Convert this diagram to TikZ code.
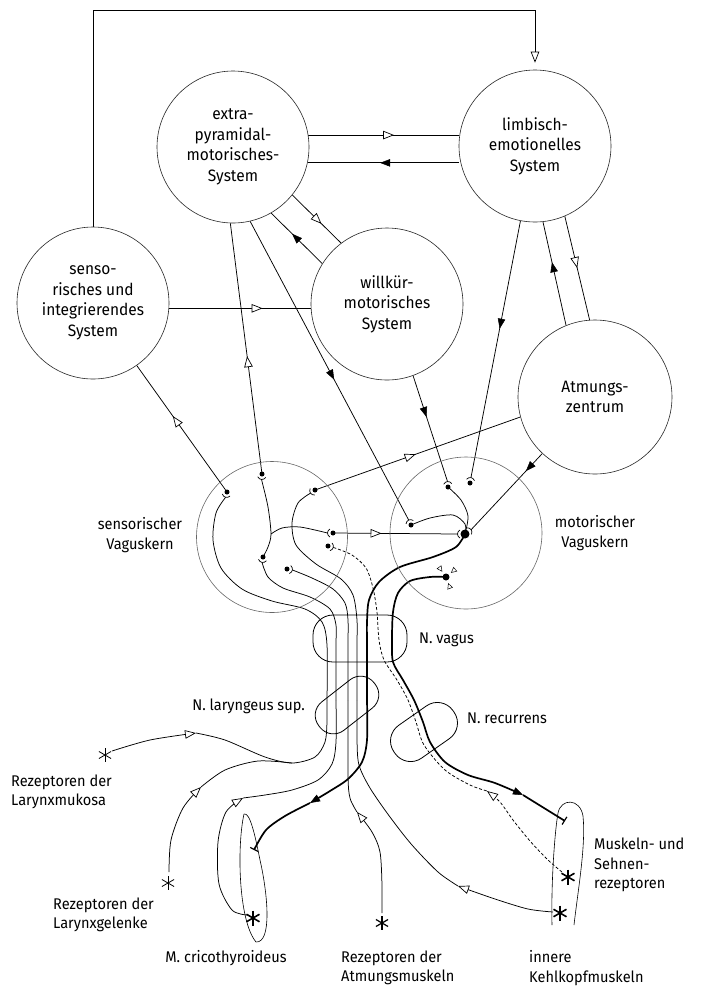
\documentclass[tikz,border=0pt]{standalone}
\usepackage{fontspec}
\setmainfont{Fira Sans}[FakeStretch=0.94]
\usetikzlibrary{arrows.meta,decorations.markings,calc}
\pgfdeclarelayer{bg}
\pgfsetlayers{bg,main}
\tikzset{
  oa/.tip={Triangle[length=11pt,width=8.5pt,fill=white,line width=0.7pt]},
  fa/.tip={Triangle[length=10pt,width=7.5pt,line width=0.5pt]},
  mo/.style={postaction={decorate},decoration={markings,mark=at position #1 with {\arrow{oa}}}},
  mor/.style={postaction={decorate},decoration={markings,mark=at position #1 with {\arrowreversed{oa}}}},
  mf/.style={postaction={decorate},decoration={markings,mark=at position #1 with {\arrow{fa}}}},
  mfr/.style={postaction={decorate},decoration={markings,mark=at position #1 with {\arrowreversed{fa}}}},
  fib/.style={line width=0.75pt},
  thk/.style={line width=1.7pt},
  dsh/.style={line width=0.75pt,dash pattern=on 3pt off 2pt},
  bigc/.style={circle,draw=black!85,line width=0.6pt,fill=white,minimum size=152pt,inner sep=0pt,align=center,font=\fontsize{16.5}{20.5}\selectfont},
  kern/.style={circle,draw=black!60,line width=0.6pt,minimum size=151pt,inner sep=0pt},
  lbl/.style={font=\fontsize{15.5}{19.5}\selectfont,inner sep=0pt},
  outl/.style={draw,line width=0.8pt,inner sep=0pt},
}
\newcommand\cupd[3]{%
  \begin{scope}[shift={(#1)},rotate=#2]
    \draw[line width=0.7pt] (#3-2.4pt,-4pt) .. controls (#3+0.8pt,-2pt) and (#3+0.8pt,2pt) .. (#3-2.4pt,4pt);
  \end{scope}}
\newcommand\astk[4]{%
  \foreach \ang in {90,30,150} {\draw[line width=#4] ($(#1)+(\ang:#3)$) -- ($(#1)+(\ang+180:#3)$);}}
\begin{document}
\begin{tikzpicture}[x=1pt,y=-1pt]
\useasboundingbox (0,0) rectangle (703,989);
% ---------- big circles
\node[bigc] (extra) at (233,147) {extra-\\pyramidal-\\motorisches-\\System};
\node[bigc] (limb) at (535,146) {limbisch-\\emotionelles\\System};
\node[bigc] (sens) at (93,303) {senso-\\risches und\\integrierendes\\System};
\node[bigc] (will) at (387,304) {willkür-\\motorisches\\System};
\node[bigc,minimum size=154pt] (atm) at (595,397) {Atmungs-\\zentrum};
\node[kern] (sk) at (272,537) {};
\node[kern,minimum size=152pt] (mk) at (466,533) {};
% ---------- nerve outlines
\node[outl,rounded corners=20pt,minimum width=94pt,minimum height=47pt] (vag) at (360,638.5) {};
\node[outl,rounded corners=17pt,minimum width=70pt,minimum height=36pt,rotate=38] (lar) at (347,705) {};
\node[outl,rounded corners=19pt,minimum width=72pt,minimum height=40pt,rotate=35] (rec) at (424,732) {};
\draw[line width=0.6pt] (244,814) .. controls (237,845) and (238,920) .. (256,942) .. controls (272,943) and (268,895) .. (260,860) .. controls (255,835) and (250,812) .. (244,814);
\draw[line width=0.6pt] (552,925) .. controls (551,880) and (555,830) .. (558,813) .. controls (561,798) and (580,798) .. (583,816) .. controls (586,845) and (578,890) .. (574,925);
% ---------- synapse coordinates
\coordinate (A) at (227,492); \coordinate (Ac) at ($(A)+(255:5.5pt)$);
\coordinate (B) at (262,474); \coordinate (Bc) at ($(B)+(265:5.5pt)$);
\coordinate (C) at (263,557); \coordinate (Cc) at ($(C)+(260:5.5pt)$);
\coordinate (D) at (333,533); \coordinate (Dc) at ($(D)+(180:5.5pt)$);
\coordinate (E) at (315,490); \coordinate (Ec) at ($(E)+(215:5.5pt)$);
\coordinate (F) at (287,569); \coordinate (Fc) at ($(F)+(-10:5.5pt)$);
\coordinate (G) at (328,546); \coordinate (Gc) at ($(G)+(-15:5.5pt)$);
\coordinate (H) at (411,525); \coordinate (Hc) at ($(H)+(115:5.5pt)$);
\coordinate (I) at (448,487); \coordinate (Ic) at ($(I)+(95:5.5pt)$);
\coordinate (J) at (470,483); \coordinate (Jc) at ($(J)+(80:5.5pt)$);
\coordinate (K) at (465,534); \coordinate (Kl) at ($(K)+(180:7.5pt)$); \coordinate (Kr) at ($(K)+(35:7.5pt)$);
\coordinate (L) at (446,577);
\coordinate (jn) at (271,534);
\coordinate (b1) at (327,700); \coordinate (b2) at (336,700); \coordinate (b3) at (348,700);
\coordinate (b4) at (357,700); \coordinate (b5) at (367,700);
\coordinate (tl) at (93,10); \coordinate (tr) at (535,10);
% receptor points and arrow tips
\coordinate (smu) at (105,755); \coordinate (mu) at (112,751); \coordinate (ma) at (196,733);
\coordinate (sge) at (168,883); \coordinate (ge) at (169,872); \coordinate (ga) at (201,787);
\coordinate (scr) at (253,918); \coordinate (cr) at (247,915); \coordinate (ca) at (243,798);
\coordinate (sat) at (382,923); \coordinate (at) at (382,913); \coordinate (aa) at (357,812);
\coordinate (sk1) at (568,877); \coordinate (k1) at (562,872); \coordinate (dt) at (487,791);
\coordinate (sk2) at (560,913); \coordinate (k2) at (553,912); \coordinate (ka) at (458,886);
\coordinate (m1a) at (310,803); \coordinate (m1e) at (254,850);
\coordinate (m2a) at (523,795); \coordinate (m2e) at (565,821);
\begin{pgfonlayer}{bg}
% ---------- top connections
\draw[fib,-{oa},shorten >=7pt] (sens.north) -- (tl) -- (tr) -- (limb.north);
\draw[fib,mo=0.57] (extra.9) -- (extra.9 -| limb.west);
\draw[fib,mfr=0.48] (extra.-12) -- (extra.-12 -| limb.west);
\draw[fib,mo=0.6] (extra.-39) -- (will.127.5);
\draw[fib,mf=0.59] (will.148) -- (extra.-60);
\draw[fib,mo=0.66] (sens.-4) -- (sens.-4 -| will.west);
\draw[fib,mf=0.61] (atm.112) -- (limb.-84);
\draw[fib,mo=0.5] (limb.-67) -- (atm.94);
% ---------- to nuclei
\draw[fib,mor=0.4] (sens.-55) -- (A);
\draw[fib,mor=0.53] (extra.-92) -- (B);
\draw[fib,mf=0.53] (extra.-77) -- (Hc);
\draw[fib,mf=0.39] (will.-70.6) -- (Ic);
\draw[fib,mf=0.42] (limb.-101) -- (Jc);
\draw[fib,mo=0.49] (E) -- (atm.195);
\draw[fib,mf=0.23] (atm.227) -- (Kr);
\draw[fib,mo=0.39] (D) -- (Kl);
% ---------- inside motor nucleus
\draw[fib] plot[smooth] coordinates {(H) (430,518) (453,515) (465,524) (K)};
\draw[fib] plot[smooth] coordinates {(I) (461,500) (468,516) (K)};
% ---------- inside sensory nucleus
\draw[fib] plot[smooth] coordinates {(C) (268,547) (jn) (268,507) (Bc)};
\draw[fib] plot[smooth] coordinates {(jn) (282,528) (300,527) (Dc)};
\draw[fib] plot[smooth] coordinates {(Ac) (216,513) (213,540) (221,568) (242,589) (272,601) (305,609) (322,622) (327,645) (b1)};
\draw[fib] plot[smooth] coordinates {(Cc) (268,577) (283,588) (310,597) (330,609) (336,625) (336,645) (b2)};
\draw[fib] plot[smooth] coordinates {(Ec) (298,503) (292,523) (296,545) (316,564) (341,579) (353,595) (357,620) (357,645) (b4)};
\draw[fib] plot[smooth] coordinates {(Fc) (312,578) (333,589) (345,603) (348,620) (348,645) (b3)};
\draw[dsh] plot[smooth] coordinates {(Gc) (352,555) (366,568) (373,588) (377,612) (379,640) (384,660) (397,680) (408,700) (416,722) (424,745) (445,770) (470,785) (dt)};
\draw[dsh,-{oa}] plot[smooth] coordinates {(k1) (548,860) (530,841) (513,820) (500,802) (dt)};
% ---------- motor fibres
\draw[thk] plot[smooth] coordinates {(K) (456,547) (433,557) (400,567) (379,582) (369,600) (367,622) (367,645) (b5)};
\draw[thk,-{fa}] plot[smooth] coordinates {(b5) (367,740) (362,762) (348,779) (330,791) (m1a)};
\draw[thk,-{Bar[width=9pt,line width=1.2pt]}] plot[smooth] coordinates {(m1a) (285,816) (266,830) (m1e)};
\draw[thk,-{fa}] plot[smooth] coordinates {(L) (430,577) (410,581) (398,593) (393,612) (392,640) (393,662) (403,680) (414,700) (423,722) (430,742) (445,762) (468,775) (495,783) (m2a)};
\draw[thk,-{Bar[width=9pt,line width=1.2pt]}] (m2a) -- (m2e);
% ---------- afferent fibres below
\draw[fib,-{oa}] plot[smooth] coordinates {(mu) (150,740) (ma)};
\draw[fib] plot[smooth] coordinates {(ma) (225,740) (265,757) (292,763) (315,757) (325,742) (327,722) (b1)};
\draw[fib,-{oa}] plot[smooth] coordinates {(ge) (171,840) (183,808) (ga)};
\draw[fib] plot[smooth] coordinates {(ga) (225,770) (258,761) (292,763)};
\draw[fib,-{oa}] plot[smooth] coordinates {(cr) (232,910) (219,884) (218,842) (226,812) (ca)};
\draw[fib] plot[smooth] coordinates {(ca) (265,795) (292,790) (318,780) (332,764) (336,742) (b2)};
\draw[fib,-{oa}] plot[smooth] coordinates {(at) (382,885) (380,852) (372,832) (aa)};
\draw[fib] plot[smooth] coordinates {(aa) (350,798) (348,775) (b3)};
\draw[fib,-{oa}] plot[smooth] coordinates {(k2) (528,909) (495,899) (ka)};
\draw[fib] plot[smooth] coordinates {(ka) (438,872) (412,845) (390,817) (370,788) (359,765) (357,740) (b4)};
\end{pgfonlayer}
% ---------- dots and cups
\foreach \n in {A,B,C,D,E,F,G,H,I,J} {\fill (\n) circle (2.5pt);}
\fill (K) circle (4.5pt);
\fill (L) circle (3.5pt);
\cupd{A}{255}{5.5pt} \cupd{B}{265}{5.5pt} \cupd{C}{260}{5.5pt} \cupd{D}{180}{5.5pt}
\cupd{E}{215}{5.5pt} \cupd{F}{-10}{5.5pt} \cupd{G}{-15}{5.5pt} \cupd{H}{115}{5.5pt}
\cupd{I}{95}{5.5pt} \cupd{J}{80}{5.5pt} \cupd{K}{180}{7.5pt} \cupd{K}{35}{7.5pt}
\foreach \ang in {125,40,-70} {
  \begin{scope}[shift={(L)},rotate=\ang]
    \draw[line width=0.5pt,fill=white] (7pt,0pt) -- (12pt,2.5pt) -- (12pt,-2.5pt) -- cycle;
  \end{scope}}
% ---------- asterisks
\astk{smu}{}{7pt}{0.8pt}
\astk{sge}{}{7pt}{0.8pt}
\astk{scr}{}{7.5pt}{1.6pt}
\astk{sat}{}{7pt}{1.2pt}
\astk{sk1}{}{7.5pt}{1.6pt}
\astk{sk2}{}{7.5pt}{1.6pt}
% ---------- labels
\node[lbl,align=left,anchor=west] (lmuk) at (11,792) {Rezeptoren der\\Larynxmukosa};
\node[lbl,align=left,anchor=west] (lgel) at (53,915) {Rezeptoren der\\Larynxgelenke};
\node[lbl] (lcri) at (226,958) {M. cricothyroideus};
\node[lbl,align=left,anchor=west] (latm) at (341,968) {Rezeptoren der\\Atmungsmuskeln};
\node[lbl,align=left,anchor=west] (lkeh) at (529,968) {innere\\Kehlkopfmuskeln};
\node[lbl,align=left,anchor=west] (lmus) at (594,865) {Muskeln- und\\Sehnen-\\rezeptoren};
\node[lbl,anchor=west] (lvag) at (419,640) {N. vagus};
\node[lbl,anchor=east] (llar) at (305,706) {N. laryngeus sup.};
\node[lbl,anchor=west] (lrec) at (467,718) {N. recurrens};
\node[lbl,align=center] (lsk) at (140,535) {sensorischer\\Vaguskern};
\node[lbl,align=center] (lmk) at (595,533) {motorischer\\Vaguskern};
\end{tikzpicture}
\end{document}
